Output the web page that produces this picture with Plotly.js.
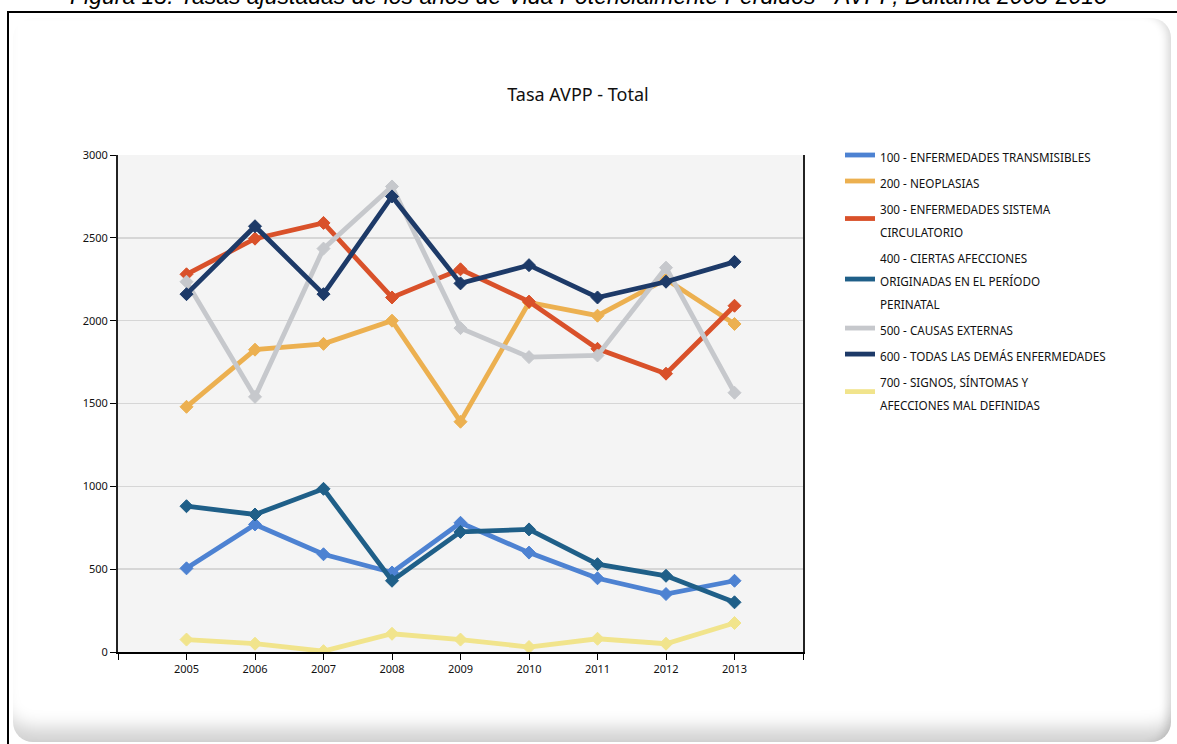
<!DOCTYPE html>
<html>
<head>
<meta charset="utf-8">
<script src="https://cdn.plot.ly/plotly-3.0.1.min.js"></script>
<style>
  html, body { margin: 0; padding: 0; background: #ffffff; overflow: hidden; }
  #wrap { position: relative; width: 1177px; height: 744px; overflow: hidden; }
  .frame { position: absolute; left: 7px; top: 11px; width: 1300px; height: 900px;
           border-top: 2px solid #000; border-left: 2px solid #000; }
  .panel { position: absolute; left: 13px; top: 18px; width: 1158px; height: 724px;
           border-radius: 20px; background: #ffffff;
           box-shadow: inset 0 -26px 18px -12px rgba(0,0,0,0.18),
                       inset -9px 0 8px -5px rgba(0,0,0,0.14); }
  #chart { position: absolute; left: 0; top: 0; width: 1177px; height: 744px; }
</style>
</head>
<body>
<div id="wrap">
  <div class="frame"></div>
  <div class="panel"></div>
  <div id="chart"></div>
</div>
<script>
// Tasa AVPP por gran grupo de causas, 2005-2013
var years = [2005, 2006, 2007, 2008, 2009, 2010, 2011, 2012, 2013];

var seriesNames = [
  ['100 - ENFERMEDADES TRANSMISIBLES'],
  ['200 - NEOPLASIAS'],
  ['300 - ENFERMEDADES SISTEMA', 'CIRCULATORIO'],
  ['400 - CIERTAS AFECCIONES', 'ORIGINADAS EN EL PERÍODO', 'PERINATAL'],
  ['500 - CAUSAS EXTERNAS'],
  ['600 - TODAS LAS DEMÁS ENFERMEDADES'],
  ['700 - SIGNOS, SÍNTOMAS Y', 'AFECCIONES MAL DEFINIDAS']
];

var transmisibles = [505, 770, 590, 480, 780, 600, 445, 350, 430];
var neoplasias    = [1480, 1825, 1860, 2000, 1390, 2110, 2030, 2250, 1980];
var circulatorio  = [2280, 2495, 2590, 2140, 2310, 2115, 1830, 1680, 2090];
var perinatal     = [880, 830, 985, 430, 725, 740, 530, 460, 300];
var externas      = [2235, 1540, 2435, 2810, 1955, 1780, 1790, 2320, 1565];
var demas         = [2160, 2570, 2160, 2750, 2225, 2335, 2140, 2235, 2355];
var signos        = [75, 50, 5, 110, 75, 30, 80, 50, 175];

var seriesValues = [transmisibles, neoplasias, circulatorio, perinatal, externas, demas, signos];
var seriesColors = ['#4d82d2', '#ecb050', '#d9512a', '#1f5f88', '#c6c8cc', '#1d3a68', '#f1e48c'];

var xTickVals = [2004, 2005, 2006, 2007, 2008, 2009, 2010, 2011, 2012, 2013, 2014];
var xTickText = ['', '2005', '2006', '2007', '2008', '2009', '2010', '2011', '2012', '2013', ''];
var yTickVals = [0, 500, 1000, 1500, 2000, 2500, 3000];

var chartTitle = 'Tasa AVPP - Total';
var caption = 'Figura 15. Tasas ajustadas de los años de Vida Potencialmente Perdidos - AVPP, Duitama 2005-2013';

// plot box in page pixels
var W = 1177, H = 744;
var plotL = 118, plotR = 803, plotT = 155, plotB = 652;
function px2x(px) { return (px - plotL) / (plotR - plotL); }
function px2y(py) { return (plotB - py) / (plotB - plotT); }

var labelFont = 'Noto Sans, Liberation Sans, Arial, sans-serif';
var legendTextSize = 11.7;

// legend rows keep a tall line pitch while the glyphs stay small
function legendLabel(lines) {
  return lines.map(function (l) {
    return '<span style="font-size:' + legendTextSize + 'px">' + l + '</span>';
  }).join('<br>');
}

var traces = [];
seriesValues.forEach(function (vals, i) {
  traces.push({
    type: 'scatter', mode: 'lines', x: years, y: vals,
    name: legendLabel(seriesNames[i]),
    line: { color: seriesColors[i], width: 4.8 },
    hoverinfo: 'x+y'
  });
  traces.push({
    type: 'scatter', mode: 'markers', x: years, y: vals,
    showlegend: false, hoverinfo: 'skip',
    marker: { symbol: 'diamond', size: 10, color: seriesColors[i],
              line: { color: seriesColors[i], width: 1 } }
  });
});

var layout = {
  width: W, height: H,
  paper_bgcolor: 'rgba(0,0,0,0)',
  plot_bgcolor: '#f4f4f4',
  margin: { l: plotL, r: W - plotR, t: plotT, b: H - plotB, pad: 0 },
  showlegend: true,
  title: {
    text: chartTitle,
    font: { family: labelFont, size: 18, color: '#111' },
    xref: 'paper', x: px2x(578), xanchor: 'center',
    yref: 'container', y: 1 - 95 / H, yanchor: 'middle'
  },
  xaxis: {
    range: [2004, 2014],
    tickmode: 'array', tickvals: xTickVals, ticktext: xTickText,
    ticks: 'outside', ticklen: 6, tickwidth: 1, tickcolor: '#000',
    showgrid: false, zeroline: false,
    showline: true, linecolor: '#000', linewidth: 2,
    tickfont: { family: labelFont, size: 11, color: '#111' }
  },
  yaxis: {
    range: [0, 3000],
    tickmode: 'array', tickvals: yTickVals,
    ticks: 'outside', ticklen: 6, tickwidth: 1, tickcolor: '#000',
    showgrid: true, gridcolor: '#d6d6d6', gridwidth: 1.5,
    zeroline: false,
    showline: true, linecolor: '#222', linewidth: 2, mirror: true,
    tickfont: { family: labelFont, size: 11, color: '#111' }
  },
  legend: {
    x: px2x(840), xanchor: 'left',
    y: px2y(137), yanchor: 'top',
    bgcolor: 'rgba(0,0,0,0)', borderwidth: 0,
    itemwidth: 30, itemclick: false, itemdoubleclick: false,
    font: { family: labelFont, size: 17.7, color: '#111' },
    valign: 'middle'
  },
  annotations: [{
    text: caption, showarrow: false,
    xref: 'paper', x: px2x(588), xanchor: 'center',
    yref: 'paper', y: px2y(11), yanchor: 'bottom',
    font: { family: 'Liberation Sans, Arial, sans-serif', size: 23, style: 'italic', color: '#000' }
  }]
};

Plotly.newPlot('chart', traces, layout, { staticPlot: true, displayModeBar: false });
</script>
</body>
</html>
